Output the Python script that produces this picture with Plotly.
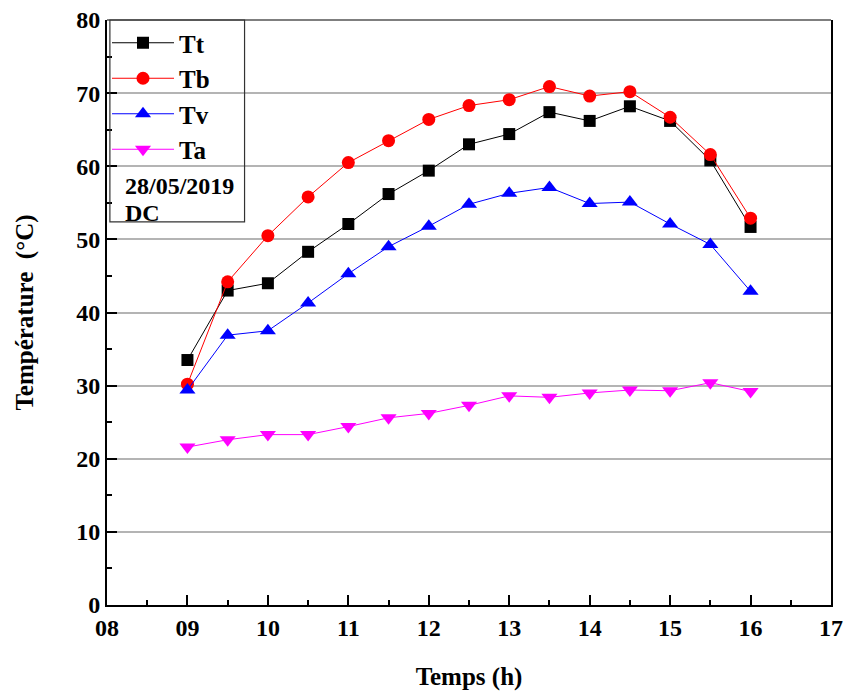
import plotly.graph_objects as go

hours = [9, 9.5, 10, 10.5, 11, 11.5, 12, 12.5, 13, 13.5, 14, 14.5, 15, 15.5, 16]
Tt = [33.5, 43.0, 44.0, 48.3, 52.1, 56.2, 59.4, 63.0, 64.4, 67.4, 66.2, 68.2, 66.2, 60.8, 51.7]
Tb = [30.2, 44.2, 50.5, 55.8, 60.5, 63.5, 66.4, 68.3, 69.1, 70.9, 69.6, 70.2, 66.7, 61.6, 52.9]
Tv = [29.4, 36.9, 37.5, 41.3, 45.3, 49.0, 51.8, 54.8, 56.3, 57.1, 54.9, 55.1, 52.1, 49.3, 42.9]
Ta = [21.6, 22.6, 23.3, 23.3, 24.4, 25.6, 26.2, 27.3, 28.6, 28.4, 29.0, 29.4, 29.3, 30.4, 29.2]

x_ticks = [8, 9, 10, 11, 12, 13, 14, 15, 16, 17]
x_labels = ["08", "09", "10", "11", "12", "13", "14", "15", "16", "17"]
y_ticks = [0, 10, 20, 30, 40, 50, 60, 70, 80]

series = [
    ("Tt", Tt, "#000000", "square", 12),
    ("Tb", Tb, "#ff0000", "circle", 13),
    ("Tv", Tv, "#0000ff", "triangle-up", 14),
    ("Ta", Ta, "#ff00ff", "triangle-down", 14),
]

FONT = "Liberation Serif"

fig = go.Figure()
for i, (name, vals, col, sym, sz) in enumerate(series):
    fig.add_trace(go.Scatter(
        x=hours, y=vals, name=name, mode="lines+markers",
        line=dict(color=col, width=1),
        marker=dict(symbol=sym, size=sz, color=col),
        legendgroup=f"g{i}",
    ))

fig.update_layout(
    width=845, height=693,
    margin=dict(l=107, r=14, t=20, b=88, autoexpand=False),
    paper_bgcolor="white", plot_bgcolor="white",
    font=dict(family=FONT, size=24, color="black"),
    showlegend=True,
    legend=dict(
        x=0.0, y=1.0, xanchor="left", yanchor="top",
        bgcolor="rgba(255,255,255,0)",
        font=dict(family=FONT, size=25, color="black", weight="bold"),
        tracegroupgap=0, itemwidth=62,
    ),
    xaxis=dict(
        range=[8, 17], tickvals=x_ticks, ticktext=x_labels, automargin=False,
        ticks="inside", ticklen=10, tickwidth=2, tickcolor="black",
        minor=dict(ticks="inside", ticklen=5, tickwidth=2, dtick=0.5, tickcolor="black", showgrid=False),
        showline=True, linewidth=2, linecolor="black", mirror=False,
        showgrid=False, zeroline=False,
        tickfont=dict(family=FONT, size=24, weight="bold"),
        title=dict(text="Temps (h)", font=dict(family=FONT, size=25, weight="bold"), standoff=28),
    ),
    yaxis=dict(
        range=[0, 80], tickvals=y_ticks, automargin=False,
        ticks="inside", ticklen=10, tickwidth=2, tickcolor="black",
        minor=dict(ticks="inside", ticklen=5, tickwidth=2, dtick=5, tickcolor="black", showgrid=False),
        showline=True, linewidth=2, linecolor="black", mirror=True,
        showgrid=True, gridcolor="#b4b4b4", gridwidth=1.5, zeroline=False,
        tickfont=dict(family=FONT, size=24, weight="bold"),
        title=dict(text="Température  (°C)", font=dict(family=FONT, size=25, weight="bold"), standoff=35),
    ),
)

# legend frame and top border
fig.add_shape(type="line", xref="paper", yref="paper", x0=0, x1=1, y0=1, y1=1,
              line=dict(color="#555555", width=1.5))
fig.add_shape(type="rect", xref="paper", yref="paper", x0=0.004, x1=0.190, y0=0.655, y1=1.0,
              line=dict(color="#333333", width=1.2), fillcolor="rgba(0,0,0,0)")
fig.add_annotation(xref="paper", yref="paper", x=0.022, y=0.717, xanchor="left", yanchor="middle",
                   text="<b>28/05/2019</b>", showarrow=False, font=dict(family=FONT, size=24))
fig.add_annotation(xref="paper", yref="paper", x=0.022, y=0.670, xanchor="left", yanchor="middle",
                   text="<b>DC</b>", showarrow=False, font=dict(family=FONT, size=24))

fig.write_html("out.html", config={"displayModeBar": False},
               post_script="document.body.style.margin='0';document.body.style.overflow='hidden';")
